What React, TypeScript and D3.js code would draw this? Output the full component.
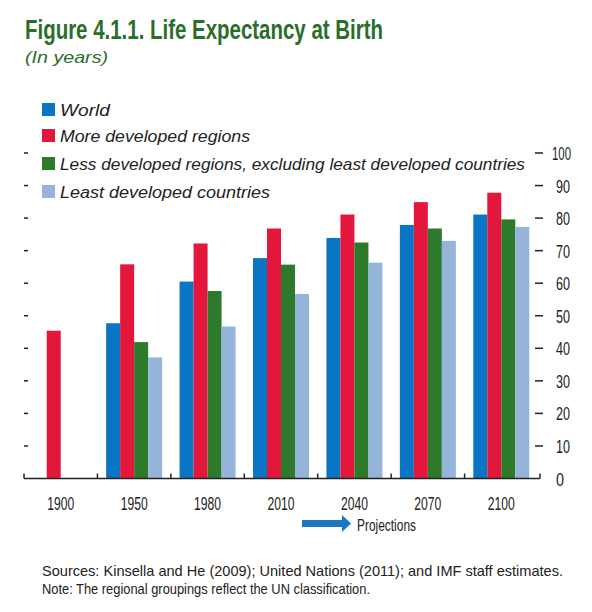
import React from "react";
import * as d3 from "d3";

const categories = ["1900", "1950", "1980", "2010", "2040", "2070", "2100"];
const seriesNames = [
  "World",
  "More developed regions",
  "Less developed regions, excluding least developed countries",
  "Least developed countries",
];
const world = [null, 47.7, 60.5, 67.7, 73.9, 77.9, 81.1];
const moreDeveloped = [45.4, 65.8, 72.2, 76.8, 81.1, 84.9, 87.8];
const lessDeveloped = [null, 41.9, 57.6, 65.7, 72.5, 76.8, 79.6];
const leastDeveloped = [null, 37.2, 46.7, 56.7, 66.3, 73.0, 77.3];
const yTicks = [0, 10, 20, 30, 40, 50, 60, 70, 80, 90, 100];
const colors = ["#0b75c5", "#e3173b", "#2c7a2a", "#94b4da"];

const series = [world, moreDeveloped, lessDeveloped, leastDeveloped];

const W = 592;
const H = 612;
const plotLeft = 24;
const plotRight = 538;
const y0 = 478.5;
const y100 = 153;
const FONT = "'Liberation Sans Narrow', 'Liberation Sans', Arial, sans-serif";

export default function App() {
  const x = d3.scaleBand<string>().domain(categories).range([plotLeft, plotRight]).paddingInner(0).paddingOuter(0);
  const y = d3.scaleLinear().domain([0, 100]).range([y0, y100]);
  const groupW = 56;
  const inner = d3
    .scaleBand<number>()
    .domain([0, 1, 2, 3])
    .range([0, groupW]);

  const legendYs = [110, 136, 164, 192];
  const legendLens = [50, 190, 465, 210];

  return (
    <svg
      width={W}
      height={H}
      style={{ position: "absolute", left: 0, top: 0, background: "#fff" }}
    >
      <text
        x={25}
        y={39}
        fontFamily={FONT}
        fontWeight="bold"
        fontSize={27}
        fill="#2a6e2a"
        textLength={358}
        lengthAdjust="spacingAndGlyphs"
      >
        Figure 4.1.1. Life Expectancy at Birth
      </text>
      <text
        x={25}
        y={63}
        fontFamily="'Liberation Sans', Arial, sans-serif"
        fontStyle="italic"
        fontSize={17}
        fill="#2a6e2a"
        textLength={83}
        lengthAdjust="spacingAndGlyphs"
      >
        (In years)
      </text>

      {/* legend */}
      {seriesNames.map((n, i) => (
        <g key={n}>
          <rect x={42} y={legendYs[i] - 7} width={13} height={13} fill={colors[i]} />
          <text
            x={60}
            y={legendYs[i] + 6}
            fontFamily="'Liberation Sans', Arial, sans-serif"
            fontStyle="italic"
            fontSize={17}
            fill="#222"
            textLength={legendLens[i]}
            lengthAdjust="spacingAndGlyphs"
          >
            {n}
          </text>
        </g>
      ))}

      {/* bars */}
      {categories.map((c, ci) => {
        const gx = (x(c) as number) + (x.bandwidth() - groupW) / 2;
        return series.map((s, si) => {
          const v = s[ci];
          if (v == null) return null;
          return (
            <rect
              key={c + si}
              x={gx + (inner(si) as number)}
              y={y(v)}
              width={inner.bandwidth()}
              height={y0 - y(v)}
              fill={colors[si]}
            />
          );
        });
      })}

      {/* left ticks */}
      {yTicks.slice(1).map((t) => (
        <line key={"l" + t} x1={24} x2={28} y1={y(t)} y2={y(t)} stroke="#222" strokeWidth={1.5} />
      ))}
      {/* right ticks and labels */}
      {yTicks.map((t) => (
        <g key={"r" + t}>
          {t > 0 && (
            <line x1={535} x2={543} y1={y(t)} y2={y(t)} stroke="#222" strokeWidth={1.5} />
          )}
          <text
            x={t === 100 ? 552 : 556}
            y={y(t) + 7}
            fontFamily={FONT}
            fontSize={19}
            fill="#222"
            textLength={t === 100 ? 19 : t === 0 ? 8 : 14}
            lengthAdjust="spacingAndGlyphs"
          >
            {t}
          </text>
        </g>
      ))}

      {/* baseline */}
      <line x1={plotLeft} x2={540} y1={y0} y2={y0} stroke="#222" strokeWidth={1.5} />
      {categories.map((c) => (
        <line
          key={"bt" + c}
          x1={x(c) as number}
          x2={x(c) as number}
          y1={y0}
          y2={y0 - 5}
          stroke="#222"
          strokeWidth={1.5}
        />
      ))}
      <line x1={540} x2={540} y1={y0} y2={y0 - 5} stroke="#222" strokeWidth={1.5} />

      {/* x labels */}
      {categories.map((c) => (
        <text
          key={"xl" + c}
          x={(x(c) as number) + x.bandwidth() / 2}
          y={510}
          textAnchor="middle"
          fontFamily={FONT}
          fontSize={19}
          fill="#222"
          textLength={27}
          lengthAdjust="spacingAndGlyphs"
        >
          {c}
        </text>
      ))}

      {/* projections arrow */}
      <rect x={302} y={520} width={42} height={7} fill="#1a78c2" />
      <path d="M342,515 L351,523.5 L342,532 Z" fill="#1a78c2" />
      <text
        x={357}
        y={531}
        fontFamily={FONT}
        fontSize={17}
        fill="#222"
        textLength={59}
        lengthAdjust="spacingAndGlyphs"
      >
        Projections
      </text>

      {/* footnotes */}
      <text
        x={42}
        y={576}
        fontFamily={FONT}
        fontSize={15}
        fill="#222"
        textLength={521}
        lengthAdjust="spacingAndGlyphs"
      >
        Sources: Kinsella and He (2009); United Nations (2011); and IMF staff estimates.
      </text>
      <text
        x={42}
        y={594}
        fontFamily={FONT}
        fontSize={15}
        fill="#222"
        textLength={328}
        lengthAdjust="spacingAndGlyphs"
      >
        Note: The regional groupings reflect the UN classification.
      </text>
    </svg>
  );
}
